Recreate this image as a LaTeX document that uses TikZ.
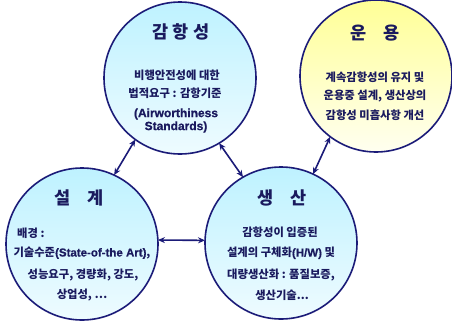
\documentclass[tikz,border=0pt]{standalone}
\usepackage{fontspec}
\setmainfont{Noto Sans CJK KR}
\newfontfamily\latf{Liberation Sans}[BoldFont={* Bold}, BoldFeatures={FakeBold=0.8}]
\usetikzlibrary{arrows.meta}
\definecolor{navy}{HTML}{1B1B78}
\definecolor{txt}{HTML}{1A1A5E}
\definecolor{cyanA}{HTML}{BEF2FF}
\definecolor{cyanB}{HTML}{EEFBFF}
\definecolor{yelA}{HTML}{FFFF96}
\definecolor{yelB}{HTML}{FFFFF0}
\tikzset{
  bub/.style={circle, draw=navy, line width=1.6pt, minimum size=152pt, inner sep=0pt, outer sep=0pt},
  cyanbub/.style={bub, top color=cyanA, bottom color=cyanB},
  yelbub/.style={bub, top color=yelA, bottom color=yelB},
  ttl/.style={text=txt, inner sep=0pt, font=\bfseries\fontsize{17.5}{20}\selectfont},
  body/.style={text=txt, inner sep=0pt, font=\bfseries\fontsize{11.3}{13}\selectfont},
  bodyl/.style={body, anchor=west},
  eng/.style={text=txt, inner sep=0pt, font=\latf\bfseries\fontsize{12}{14}\selectfont},
  link/.style={{Stealth[length=7pt,width=6pt]}-{Stealth[length=7pt,width=6pt]}, draw=navy, line width=1.6pt}
}
\newcommand{\en}[1]{{\latf\bfseries\fontsize{11.5}{13}\selectfont #1}}
\begin{document}
\begin{tikzpicture}[x=1pt,y=-1pt]
\useasboundingbox (0,0) rectangle (452,322);
% circles
\node[cyanbub] (gam) at (180,78) {};
\node[yelbub]  (unn) at (376,76) {};
\node[cyanbub] (sul) at (82,244) {};
\node[cyanbub] (san) at (281,243) {};
% titles
\node[ttl] (gamT) at (181,32) {감\hspace{0.25em}항\hspace{0.25em}성};
\node[ttl] (unnT) at (375,33) {운\hspace{1em}용};
\node[ttl] (sulT) at (79,198) {설\hspace{1em}계};
\node[ttl] (sanT) at (282,198) {생\hspace{1em}산};
% 감항성 body
\node[body] (g1) at (177,75) {비행안전성에 대한};
\node[body] (g2) at (175,93) {법적요구 : 감항기준};
\node[eng]  (g3) at (176,114) {(Airworthiness};
\node[eng]  (g4) at (176,127) {Standards)};
% 운용 body
\node[body] (u1) at (375,77) {계속감항성의 유지 및};
\node[body] (u2) at (375,96) {운용중 설계, 생산상의};
\node[body] (u3) at (375,115) {감항성 미흡사항 개선};
% 설계 body
\node[bodyl] (s1) at (17,233) {배경 :};
\node[body] (s2) at (82,253) {기술수준\en{(State-of-the Art)},};
\node[body] (s3) at (83,275) {성능요구, 경량화, 강도,};
\node[body] (s4) at (82,295) {상업성, …};
% 생산 body
\node[body] (p1) at (280,232) {감항성이 입증된};
\node[body] (p2) at (281,253) {설계의 구체화\en{(H/W)} 및};
\node[body] (p3) at (281,275) {대량생산화 : 품질보증,};
\node[body] (p4) at (282,295) {생산기술...};
% connectors
\draw[link] (gam.234) -- (sul.65);
\draw[link] (gam.301) -- (san.120);
\draw[link] (unn.233) -- (san.65);
\draw[link] (sul.3) -- (san.178);
\end{tikzpicture}
\end{document}
